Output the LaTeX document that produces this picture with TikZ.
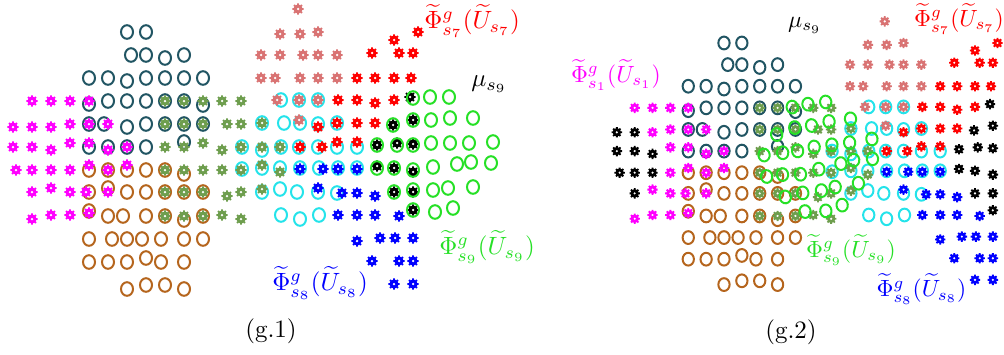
\documentclass[tikz,border=0pt]{standalone}
\usepackage{amsmath}
\definecolor{cteal}{HTML}{215563}
\definecolor{cbrown}{HTML}{B5651D}
\definecolor{colive}{HTML}{6E9E4E}
\definecolor{cpink}{HTML}{D97373}
\definecolor{ccyan}{HTML}{24E3EA}
\definecolor{cgreen}{HTML}{26E026}
\definecolor{cred}{HTML}{FF0000}
\definecolor{cblue}{HTML}{0000FF}
\definecolor{cmagenta}{HTML}{FF00FF}
\tikzset{
  ring/.style       = {line width=0.8pt},
  lbl/.style        = {inner sep=0pt},
  every node/.style = {font=\normalsize},
}
% markers: open rings and small gears, positions in pixels
\newcommand{\rings}[2]{%
  \foreach \x/\y in #2 {\draw[ring, #1] (\x,\y) ellipse (6 and 6.8);}}
\newcommand{\gears}[2]{%
  \foreach \x/\y in #2 {
    \fill[#1, even odd rule, shift={(\x,\y)}]
      (-14:4.2) \foreach \a in {0,45,...,315} {
        -- (\a-14:4.2) -- (\a-10:5.6) -- (\a+10:5.6) -- (\a+14:4.2)}
      -- cycle (0,0) circle (1.5);
  }}
% point sets of panel (g.1)
\def\tealL{127/32,146/32, 131/55,146/55,165/58,184/55,
  89/78,108/78,127/81,146/78,165/78,184/78,203/78,
  89/104,108/101,127/101,146/101,165/101,184/101,203/105,
  89/124,104/124,127/127,146/124,165/124,184/124,203/124,
  89/147,108/147,127/147,146/147,184/142}
\def\brownL{89/170,108/170,127/170,146/170,165/170,184/174,
  89/192,108/188,127/192,146/192,165/192,184/192,203/192,
  89/211,108/216,123/216,146/216,165/216,184/220,203/216,
  89/239,112/239,127/239,142/239,161/239,184/239,203/239,
  89/262,108/262,127/262,146/258,161/262,184/262,
  127/289,146/285,165/285,184/289}
\def\cyanL{242/147,242/169, 281/100,299/100,318/100,
  262/123,284/123,300/123,318/124,337/123,
  262/150,281/147,299/147,318/147,337/147,357/147,
  262/168,280/168,300/168,319/168,338/168,357/168,
  262/192,280/189,297/192,318/192,337/193,
  281/215,300/219,319/215}
\def\magA{32/101,51/101,70/101,89/101,
  51/127,70/124,89/124,108/124,
  70/143,89/143,108/150,127/147,
  70/170,89/165,108/170,127/165,
  51/188,70/192,86/192,108/192,
  32/219,51/215,70/215,89/213}
\def\magB{13/127,32/127, 13/147,32/147,51/150, 16/170,32/170,51/170, 32/192}
\def\oliveL{165/101,184/101,203/101,222/101,241/101,
  165/124,184/124,203/124,227/124,241/124,262/123,
  165/147,184/147,203/143,222/150,241/147,262/147,280/147,
  165/170,184/170,203/170,222/170,241/170,262/165,280/172,
  165/192,184/192,203/192,227/196,241/192,262/189,
  165/216,184/216,203/216,222/215,241/219}
\def\pinkL{298/9, 280/34,300/34,318/32,
  261/55,280/55,303/55,318/55,337/55,
  261/78,275/78,300/78,318/78,337/78,
  277/100,299/100,318/100, 299/120}
\def\redL{418/32,394/40, 372/53,399/53,413/53,
  357/78,375/78,394/78,411/78,
  338/100,357/100,375/103,394/100,
  318/127,337/123,357/123,375/123,
  300/147,322/147,337/142,357/142}
\def\blueL{300/169,323/169,338/169,357/169,
  318/188,342/193,357/193,375/196,
  338/215,357/215,375/215,399/216,
  357/241,380/238,395/238,413/238,
  372/261,399/261,413/261, 394/284,413/284}
\def\blackL{410/97, 393/125,413/120, 377/145,397/143,413/144,
  377/166,394/168,413/172, 394/192,413/192, 413/210}
\def\greenL{413/98,430/97,449/97,
  393/125,413/120,431/120,450/118,473/118,
  377/145,397/145,413/145,431/143,450/143,469/143,493/142,
  377/168,394/168,413/170,433/167,457/164,471/162,491/163,
  394/192,413/190,433/190,448/188,473/187,
  413/210,435/212,453/208}
\begin{document}
\begin{tikzpicture}[x=0.4pt, y=-0.4pt]
  \useasboundingbox (0,0) rectangle (1004,354);
  % (g.1)
  \rings{cteal}{\tealL}
  \rings{cbrown}{\brownL}
  \rings{ccyan}{\cyanL}
  \gears{cmagenta}{\magA}
  \gears{cmagenta}{\magB}
  \gears{colive}{\oliveL}
  \gears{cpink}{\pinkL}
  \gears{cred}{\redL}
  \gears{cblue}{\blueL}
  \gears{black}{\blackL}
  \rings{cgreen}{\greenL}
  \node[lbl, text=cred] (phi7a) at (472,21) {$\widetilde{\Phi}^g_{s_7}(\widetilde{U}_{s_7})$};
  \node[lbl] (mu9a) at (489,84) {$\mu_{s_9}$};
  \node[lbl, text=cgreen] (phi9a) at (487,247) {$\widetilde{\Phi}^g_{s_9}(\widetilde{U}_{s_9})$};
  \node[lbl, text=cblue] (phi8a) at (320,283) {$\widetilde{\Phi}^g_{s_8}(\widetilde{U}_{s_8})$};
  \node[lbl] (capa) at (271,331) {(g.1)};
  % (g.2): same sets, scaled; s9 moved and turned
  \begin{scope}[shift={(604.6,12.9)}, scale=0.94, every node/.append style={transform shape}]
    \rings{cteal}{\tealL}
    \rings{cbrown}{\brownL}
    \rings{ccyan}{\cyanL}
    \gears{cmagenta}{\magA}
    \gears{black}{\magB}
    \gears{colive}{\oliveL}
    \gears{cpink}{\pinkL}
    \gears{cred}{\redL}
    \gears{cblue}{\blueL}
    \gears{black}{\blackL}
    \begin{scope}[shift={(169.6,151.2)}, rotate=7, shift={(-377,-145)}]
      \rings{cgreen}{\greenL}
    \end{scope}
    \node[lbl, text=cred] (phi7b) at (377,6.5) {$\widetilde{\Phi}^g_{s_7}(\widetilde{U}_{s_7})$};
    \node[lbl] (mu9b) at (213,13) {$\mu_{s_9}$};
    \node[lbl, text=cmagenta] (phi1b) at (12,66) {$\widetilde{\Phi}^g_{s_1}(\widetilde{U}_{s_1})$};
    \node[lbl, text=cgreen] (phi9b) at (262,252) {$\widetilde{\Phi}^g_{s_9}(\widetilde{U}_{s_9})$};
    \node[lbl, text=cblue] (phi8b) at (337,294) {$\widetilde{\Phi}^g_{s_8}(\widetilde{U}_{s_8})$};
  \end{scope}
  \node[lbl] (capb) at (791,332) {(g.2)};
\end{tikzpicture}
\end{document}
